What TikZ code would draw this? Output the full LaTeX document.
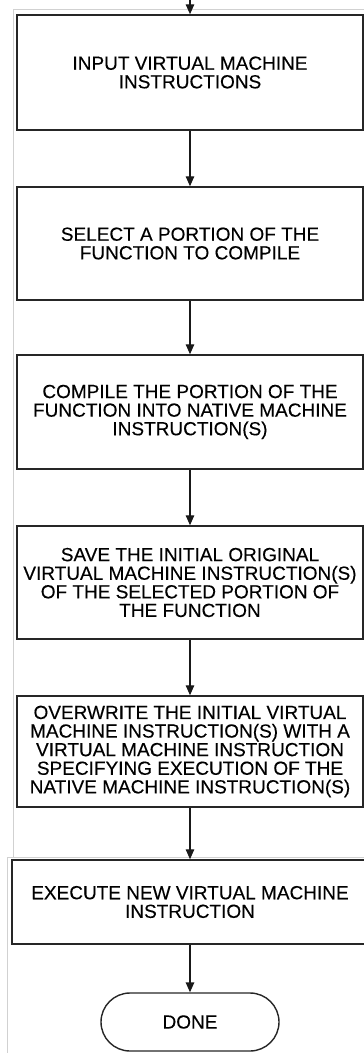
\documentclass[tikz,border=0pt]{standalone}
\usepackage{fontspec}
\setmainfont{Liberation Sans}
\newfontfamily\lblfont{Liberation Sans}[FakeBold=0.25]
\usetikzlibrary{arrows.meta,shapes.misc}
\begin{document}
\begin{tikzpicture}[x=1pt,y=-1pt,
  stepbox/.style={draw=black!85, line width=1.5pt, inner sep=0pt,
    align=center, font=\lblfont\fontsize{19}{18.6}\selectfont},
  endbox/.style={draw=black!85, line width=1.4pt, rounded rectangle,
    inner sep=0pt, minimum width=178, minimum height=58,
    font=\lblfont\fontsize{19}{18.6}\selectfont},
  arr/.style={draw=black!90, line width=1.4pt, -{Triangle[length=10pt,width=8.5pt]}},
  edge/.style={draw=black!18, line width=0.9pt}]
\useasboundingbox (0,0) rectangle (364,1053);
\clip (0,0) rectangle (364,1053);
% faint page edges
\draw[edge] (364,9) -- (13,9) -- (13,857);
\draw[edge] (364,857) -- (7,857) -- (7,1053);
% process steps
\node[stepbox, minimum width=346, minimum height=115] (b1) at (190,72.5)
  {INPUT VIRTUAL MACHINE\\INSTRUCTIONS};
\node[stepbox, minimum width=346, minimum height=113] (b2) at (190,243.5)
  {SELECT A PORTION OF THE\\FUNCTION TO COMPILE};
\node[stepbox, minimum width=346, minimum height=114] (b3) at (190,412)
  {COMPILE THE PORTION OF THE\\FUNCTION INTO NATIVE MACHINE\\INSTRUCTION(S)};
\node[stepbox, minimum width=346, minimum height=113] (b4) at (190,582.5)
  {SAVE THE INITIAL ORIGINAL\\VIRTUAL MACHINE INSTRUCTION(S)\\OF THE SELECTED PORTION OF\\THE FUNCTION};
\node[stepbox, minimum width=346, minimum height=111] (b5) at (190,751.5)
  {OVERWRITE THE INITIAL VIRTUAL\\MACHINE INSTRUCTION(S) WITH A\\VIRTUAL MACHINE INSTRUCTION\\SPECIFYING EXECUTION OF THE\\NATIVE MACHINE INSTRUCTION(S)};
\node[stepbox, minimum width=356, minimum height=84] (b6) at (190,902)
  {EXECUTE NEW VIRTUAL MACHINE\\INSTRUCTION};
\node[endbox] (done) at (190,1022) {DONE};
% connectors
\coordinate (start) at (190,0);
\draw[arr] (start) -- (b1.north);
\draw[arr] (b1.south) -- (b2.north);
\draw[arr] (b2.south) -- (b3.north);
\draw[arr] (b3.south) -- (b4.north);
\draw[arr] (b4.south) -- (b5.north);
\draw[arr] (b5.south) -- (b6.north);
\draw[arr] (b6.south) -- (done.north);
\end{tikzpicture}
\end{document}
